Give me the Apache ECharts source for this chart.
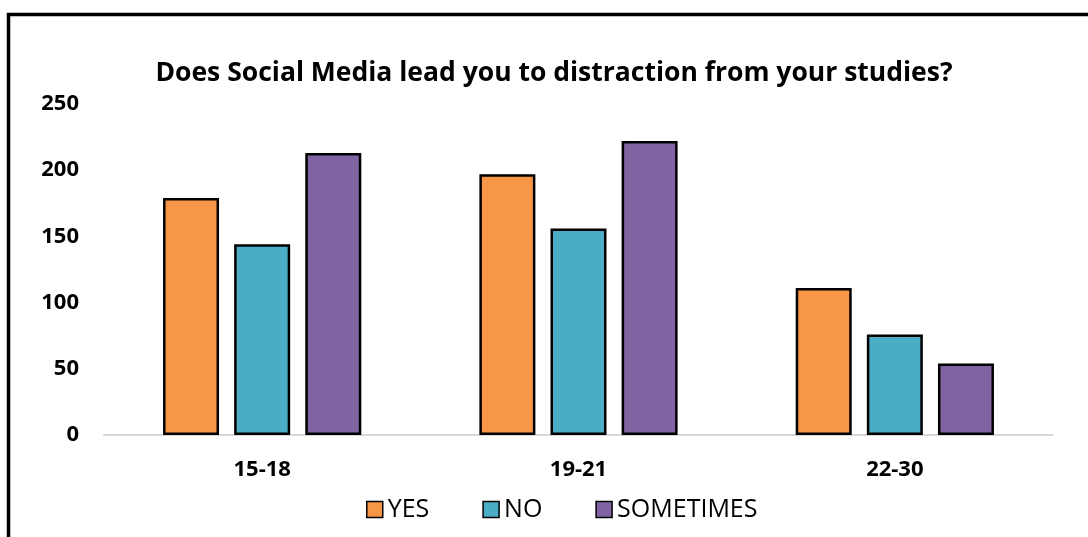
<!DOCTYPE html>
<html>
<head>
<meta charset="utf-8">
<title>Social Media Distraction by Age Group</title>
<script src="https://cdn.jsdelivr.net/npm/echarts@6/dist/echarts.min.js"></script>
<style>
  html, body { margin: 0; padding: 0; background: #ffffff; }
  #chart { width: 1088px; height: 537px; }
</style>
</head>
<body>
<div id="chart"></div>
<script>
// Survey responses grouped by age range
const ageGroups = ['15-18', '19-21', '22-30'];
const yesValues = [179, 197, 111];
const noValues = [144, 156, 76];
const sometimesValues = [213, 222, 54];
const seriesNames = ['YES', 'NO', 'SOMETIMES'];
const seriesColors = ['#F79646', '#4BACC6', '#8064A2'];

const FONT = '"Open Sans"';

const chart = echarts.init(document.getElementById('chart'), null, { renderer: 'canvas' });

const makeBar = (name, data, color) => ({
  name: name,
  type: 'bar',
  data: data,
  barWidth: 56,
  barGap: '27%',
  itemStyle: { color: color, borderColor: '#000000', borderWidth: 2.5 }
});

chart.setOption({
  animation: false,
  backgroundColor: '#ffffff',
  title: {
    text: 'Does Social Media lead you to distraction from your studies?',
    left: 549,
    textAlign: 'center',
    top: 55,
    textStyle: { fontFamily: FONT, fontWeight: 'bold', fontSize: 26.5, color: '#000000' }
  },
  legend: {
    data: seriesNames,
    left: 361,
    top: 492,
    itemWidth: 16,
    itemHeight: 16,
    itemGap: 53,
    icon: 'rect',
    itemStyle: { borderColor: '#000000', borderWidth: 1.5 },
    textStyle: { fontFamily: FONT, fontSize: 25, color: '#000000' }
  },
  grid: { left: 104, right: 35, top: 104, bottom: 102, containLabel: false },
  xAxis: {
    type: 'category',
    data: ageGroups,
    axisLine: { show: true, lineStyle: { color: '#D9D9D9', width: 2 } },
    axisTick: { show: false },
    axisLabel: { margin: 24, fontFamily: FONT, fontWeight: 'bold', fontSize: 22, color: '#000000' }
  },
  yAxis: {
    type: 'value',
    min: 0,
    max: 250,
    interval: 50,
    axisLine: { show: false },
    axisTick: { show: false },
    splitLine: { show: false },
    axisLabel: { margin: 25, fontFamily: FONT, fontWeight: 'bold', fontSize: 22, color: '#000000' }
  },
  graphic: [{
    type: 'rect',
    left: 6,
    top: 12,
    shape: { x: 0, y: 0, width: 1200, height: 700 },
    style: { fill: 'none', stroke: '#000000', lineWidth: 3.5 },
    silent: true,
    z: 100
  }],
  series: [
    makeBar(seriesNames[0], yesValues, seriesColors[0]),
    makeBar(seriesNames[1], noValues, seriesColors[1]),
    makeBar(seriesNames[2], sometimesValues, seriesColors[2])
  ]
});
</script>
</body>
</html>
